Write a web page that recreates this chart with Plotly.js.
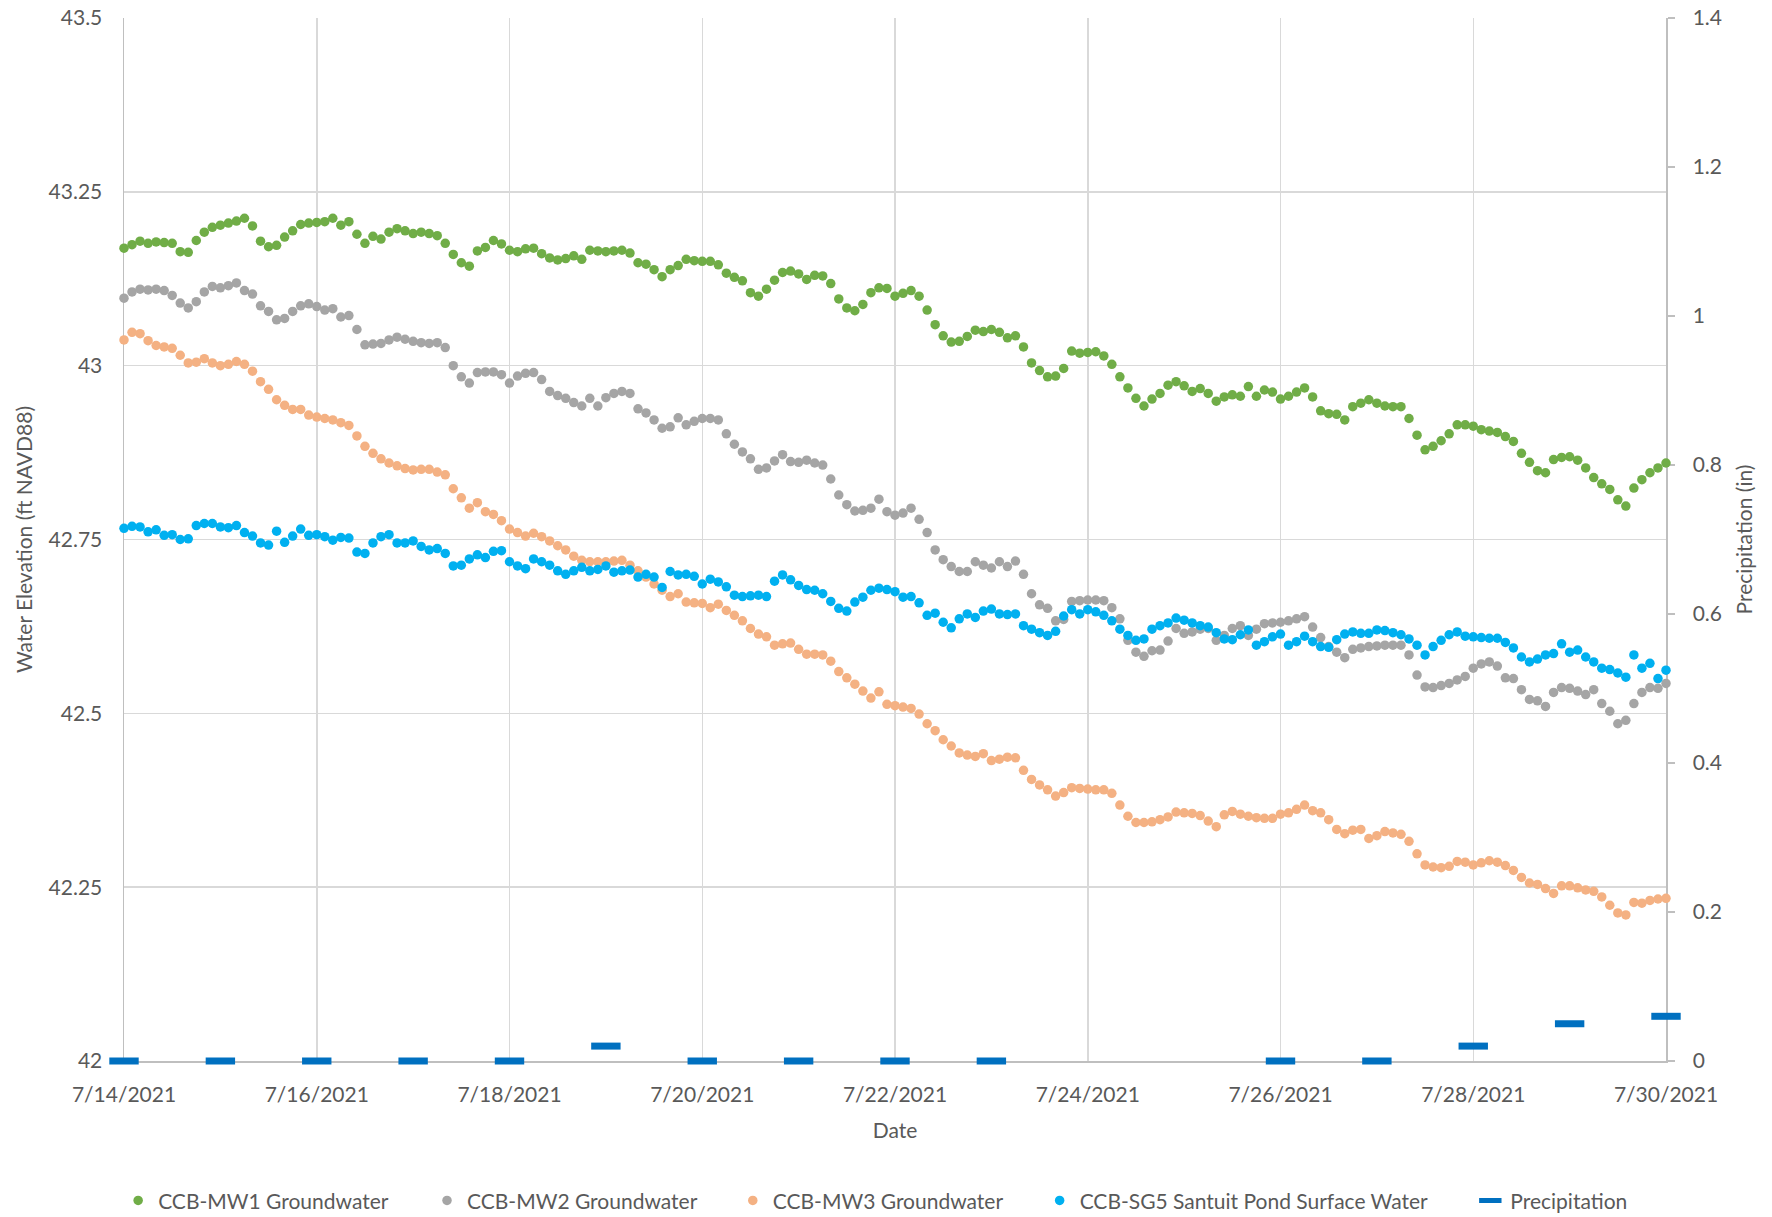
<!DOCTYPE html>
<html>
<head>
<meta charset="utf-8">
<script src="https://cdn.plot.ly/plotly-3.0.1.min.js"></script>
<style>html,body{margin:0;padding:0;background:#fff;}#chart{width:1772px;height:1217px;}</style>
</head>
<body>
<div id="chart"></div>
<script>
// Water elevation readings every 2 hours from 7/14/2021 00:00 to 7/30/2021 00:00 (ft NAVD88)
const seriesStart = '2021-07-14T00:00:00Z';
const stepHours = 2;

const mw1 = [
43.169,43.174,43.179,43.176,43.178,43.177,43.176,43.164,43.163,43.180,43.192,43.199,
43.202,43.205,43.208,43.212,43.201,43.179,43.171,43.173,43.185,43.194,43.203,43.205,
43.206,43.207,43.212,43.202,43.207,43.189,43.176,43.186,43.182,43.192,43.197,43.194,
43.190,43.192,43.190,43.187,43.176,43.160,43.148,43.143,43.165,43.170,43.180,43.175,
43.166,43.164,43.168,43.169,43.161,43.155,43.152,43.154,43.158,43.153,43.166,43.165,
43.164,43.165,43.166,43.162,43.148,43.146,43.138,43.128,43.138,43.144,43.153,43.151,
43.150,43.150,43.145,43.133,43.127,43.122,43.105,43.100,43.110,43.123,43.134,43.136,
43.132,43.124,43.130,43.129,43.118,43.096,43.083,43.079,43.088,43.105,43.112,43.111,
43.100,43.104,43.108,43.100,43.080,43.059,43.043,43.034,43.035,43.042,43.051,43.049,
43.052,43.048,43.040,43.043,43.027,43.004,42.993,42.984,42.985,42.996,43.021,43.018,
43.019,43.020,43.014,43.002,42.984,42.968,42.953,42.942,42.952,42.960,42.972,42.977,
42.971,42.963,42.967,42.960,42.949,42.955,42.958,42.956,42.970,42.956,42.965,42.962,
42.952,42.956,42.962,42.968,42.955,42.935,42.931,42.930,42.922,42.941,42.946,42.951,
42.946,42.942,42.941,42.941,42.924,42.900,42.879,42.884,42.892,42.902,42.915,42.915,
42.913,42.908,42.906,42.904,42.898,42.891,42.874,42.861,42.849,42.846,42.865,42.868,
42.869,42.864,42.853,42.839,42.830,42.822,42.807,42.798,42.824,42.836,42.846,42.853,
42.860];

const mw2 = [
43.097,43.106,43.110,43.109,43.110,43.108,43.101,43.090,43.083,43.092,43.106,43.114,
43.112,43.115,43.119,43.108,43.103,43.086,43.078,43.066,43.068,43.078,43.086,43.089,
43.085,43.080,43.082,43.070,43.072,43.052,43.030,43.031,43.032,43.037,43.041,43.038,
43.035,43.033,43.032,43.033,43.026,43.000,42.984,42.975,42.990,42.991,42.991,42.987,
42.975,42.985,42.989,42.990,42.980,42.963,42.957,42.953,42.947,42.942,42.953,42.942,
42.954,42.960,42.963,42.960,42.938,42.932,42.922,42.910,42.912,42.925,42.915,42.920,
42.924,42.924,42.922,42.902,42.887,42.876,42.866,42.851,42.853,42.863,42.872,42.862,
42.861,42.864,42.860,42.857,42.837,42.814,42.800,42.791,42.792,42.795,42.808,42.790,
42.785,42.788,42.795,42.779,42.760,42.735,42.721,42.711,42.704,42.704,42.718,42.713,
42.709,42.718,42.711,42.719,42.700,42.672,42.656,42.651,42.633,42.635,42.661,42.662,
42.663,42.663,42.662,42.652,42.636,42.605,42.588,42.582,42.590,42.591,42.604,42.622,
42.615,42.617,42.621,42.622,42.605,42.612,42.622,42.626,42.612,42.621,42.629,42.630,
42.631,42.633,42.636,42.639,42.624,42.609,42.596,42.588,42.580,42.592,42.594,42.596,
42.597,42.598,42.598,42.598,42.584,42.555,42.538,42.537,42.540,42.543,42.548,42.553,
42.565,42.571,42.574,42.568,42.551,42.550,42.534,42.520,42.518,42.510,42.530,42.537,
42.536,42.532,42.527,42.534,42.514,42.503,42.485,42.490,42.514,42.530,42.537,42.536,
42.543];

const mw3 = [
43.037,43.048,43.046,43.036,43.029,43.027,43.025,43.015,43.004,43.005,43.010,43.004,
43.000,43.002,43.006,43.002,42.992,42.977,42.966,42.951,42.943,42.937,42.937,42.929,
42.926,42.924,42.922,42.918,42.914,42.899,42.884,42.874,42.866,42.860,42.856,42.852,
42.850,42.851,42.851,42.847,42.843,42.823,42.810,42.795,42.803,42.790,42.786,42.777,
42.765,42.760,42.755,42.759,42.754,42.748,42.741,42.735,42.726,42.720,42.718,42.718,
42.718,42.719,42.720,42.713,42.705,42.696,42.686,42.677,42.668,42.672,42.660,42.659,
42.658,42.652,42.657,42.648,42.641,42.633,42.622,42.614,42.610,42.598,42.600,42.601,
42.592,42.585,42.585,42.584,42.575,42.560,42.551,42.542,42.532,42.522,42.531,42.513,
42.511,42.509,42.507,42.499,42.485,42.475,42.462,42.453,42.443,42.440,42.438,42.442,
42.432,42.434,42.437,42.436,42.418,42.405,42.397,42.390,42.381,42.386,42.393,42.392,
42.391,42.390,42.390,42.385,42.368,42.352,42.343,42.343,42.344,42.347,42.351,42.358,
42.357,42.356,42.353,42.345,42.337,42.354,42.359,42.355,42.352,42.350,42.349,42.349,
42.355,42.357,42.362,42.368,42.360,42.357,42.347,42.333,42.327,42.332,42.333,42.320,
42.324,42.330,42.328,42.326,42.316,42.298,42.282,42.279,42.278,42.280,42.287,42.286,
42.282,42.285,42.288,42.286,42.281,42.274,42.264,42.256,42.254,42.248,42.241,42.252,
42.252,42.249,42.246,42.244,42.236,42.224,42.213,42.210,42.228,42.227,42.231,42.233,
42.234];

const sg5 = [
42.766,42.769,42.768,42.761,42.764,42.756,42.757,42.750,42.751,42.770,42.773,42.773,
42.768,42.767,42.770,42.760,42.755,42.745,42.742,42.762,42.746,42.755,42.765,42.756,
42.757,42.754,42.749,42.753,42.752,42.732,42.730,42.745,42.754,42.757,42.745,42.745,
42.748,42.740,42.735,42.737,42.730,42.712,42.713,42.722,42.728,42.724,42.733,42.734,
42.718,42.712,42.708,42.722,42.718,42.713,42.705,42.700,42.705,42.710,42.705,42.707,
42.712,42.703,42.705,42.706,42.696,42.700,42.696,42.681,42.704,42.699,42.700,42.697,
42.686,42.693,42.689,42.682,42.670,42.668,42.669,42.670,42.668,42.690,42.699,42.692,
42.684,42.678,42.677,42.672,42.661,42.651,42.647,42.660,42.667,42.677,42.680,42.678,
42.675,42.667,42.668,42.659,42.641,42.644,42.631,42.623,42.636,42.643,42.638,42.647,
42.650,42.643,42.642,42.643,42.626,42.621,42.616,42.612,42.618,42.640,42.649,42.643,
42.649,42.646,42.641,42.633,42.621,42.612,42.605,42.607,42.621,42.626,42.630,42.637,
42.634,42.630,42.626,42.624,42.616,42.607,42.606,42.613,42.620,42.598,42.603,42.610,
42.614,42.598,42.603,42.611,42.603,42.596,42.595,42.606,42.614,42.617,42.615,42.615,
42.620,42.619,42.616,42.613,42.607,42.598,42.584,42.596,42.605,42.613,42.617,42.611,
42.610,42.609,42.608,42.608,42.602,42.594,42.581,42.574,42.578,42.584,42.586,42.600,
42.588,42.591,42.581,42.574,42.565,42.563,42.558,42.552,42.584,42.565,42.572,42.550,
42.562];

// Daily precipitation (in)
const precipDates = ['2021-07-14','2021-07-15','2021-07-16','2021-07-17','2021-07-18','2021-07-19',
  '2021-07-20','2021-07-21','2021-07-22','2021-07-23','2021-07-24','2021-07-25','2021-07-26',
  '2021-07-27','2021-07-28','2021-07-29','2021-07-30'];
const precip = [0,0,0,0,0,0.02,0,0,0,0,null,null,0,0,0.02,0.05,0.06];

// Axis ticks
const xTickVals = ['2021-07-14','2021-07-16','2021-07-18','2021-07-20','2021-07-22','2021-07-24','2021-07-26','2021-07-28','2021-07-30'];
const xTickText = ['7/14/2021','7/16/2021','7/18/2021','7/20/2021','7/22/2021','7/24/2021','7/26/2021','7/28/2021','7/30/2021'];
const yTickVals = [42, 42.25, 42.5, 42.75, 43, 43.25, 43.5];
const yTickText = ['42','42.25','42.5','42.75','43','43.25','43.5'];
const y2TickVals = [0, 0.2, 0.4, 0.6, 0.8, 1.0, 1.2, 1.4];
const y2TickText = ['0','0.2','0.4','0.6','0.8','1','1.2','1.4'];

const seriesNames = ['CCB-MW1 Groundwater','CCB-MW2 Groundwater','CCB-MW3 Groundwater','CCB-SG5 Santuit Pond Surface Water','Precipitation'];
const seriesColors = ['#70AD47','#A5A5A5','#F4B183','#00B0F0','#0070C0'];
// legend entry x positions (fraction of plot width), one legend per series
const legendX = [-0.0038, 0.1965, 0.3948, 0.5938, 0.8731];

function timeAxis(n) {
  const t0 = Date.parse(seriesStart);
  const out = [];
  for (let i = 0; i < n; i++) {
    const d = new Date(t0 + i * stepHours * 3600000);
    const p = v => String(v).padStart(2, '0');
    out.push(d.getUTCFullYear() + '-' + p(d.getUTCMonth() + 1) + '-' + p(d.getUTCDate()) + ' ' + p(d.getUTCHours()) + ':00');
  }
  return out;
}

const t = timeAxis(mw1.length);
const legendIds = ['legend','legend2','legend3','legend4','legend5'];
function dots(i, y) {
  return {x: t, y: y, name: seriesNames[i], type: 'scatter', mode: 'markers', cliponaxis: false,
    legend: legendIds[i], marker: {color: seriesColors[i], size: 9.5}};
}

const traces = [
  dots(0, mw1), dots(1, mw2), dots(2, mw3), dots(3, sg5),
  {x: precipDates, y: precip, name: seriesNames[4], type: 'scatter', mode: 'markers', yaxis: 'y2',
   cliponaxis: false, legend: 'legend5',
   marker: {symbol: 'line-ew', size: 21, color: seriesColors[4], line: {color: seriesColors[4], width: 7}}}
];

const layout = {
  width: 1772, height: 1217,
  margin: {l: 123.5, r: 105.5, t: 18, b: 156, pad: 0, autoexpand: false},
  paper_bgcolor: '#ffffff', plot_bgcolor: '#ffffff',
  font: {family: 'Lato, "Open Sans", sans-serif', size: 21, color: '#595959'},
  showlegend: true,
  xaxis: {type: 'date', range: ['2021-07-14', '2021-07-30'], tickmode: 'array',
    tickvals: xTickVals, ticktext: xTickText, showgrid: true, gridcolor: '#D9D9D9', gridwidth: 1.5,
    showline: true, linecolor: '#BFBFBF', linewidth: 2, zeroline: false, ticks: '',
    ticklabelstandoff: 14, layer: 'below traces',
    title: {text: 'Date', standoff: 18, font: {size: 21, color: '#595959'}}},
  yaxis: {range: [42, 43.5], tickmode: 'array', tickvals: yTickVals, ticktext: yTickText,
    showgrid: true, gridcolor: '#D9D9D9', gridwidth: 1.5, showline: true, linecolor: '#BFBFBF',
    linewidth: 1.5, zeroline: false, ticks: '', ticklabelstandoff: 16, layer: 'below traces',
    title: {text: 'Water Elevation (ft NAVD88)', standoff: 10, font: {size: 21, color: '#595959'}}},
  yaxis2: {range: [0, 1.4], overlaying: 'y', side: 'right', tickmode: 'array', tickvals: y2TickVals,
    ticktext: y2TickText, showgrid: false, showline: true, linecolor: '#BFBFBF', linewidth: 1.5,
    zeroline: false, ticks: 'outside', ticklen: 7, tickcolor: '#BFBFBF', tickwidth: 1.5,
    ticklabelstandoff: 14, layer: 'below traces',
    title: {text: 'Precipitation (in)', standoff: 16, font: {size: 21, color: '#595959'}}}
};
legendIds.forEach((id, i) => {
  layout[id] = {orientation: 'h', x: legendX[i], xanchor: 'left', y: -0.134, yanchor: 'middle',
    font: {size: 21, color: '#595959'}, bgcolor: 'rgba(0,0,0,0)', borderwidth: 0};
});

Plotly.newPlot('chart', traces, layout, {displayModeBar: false, staticPlot: true});
</script>
</body>
</html>
